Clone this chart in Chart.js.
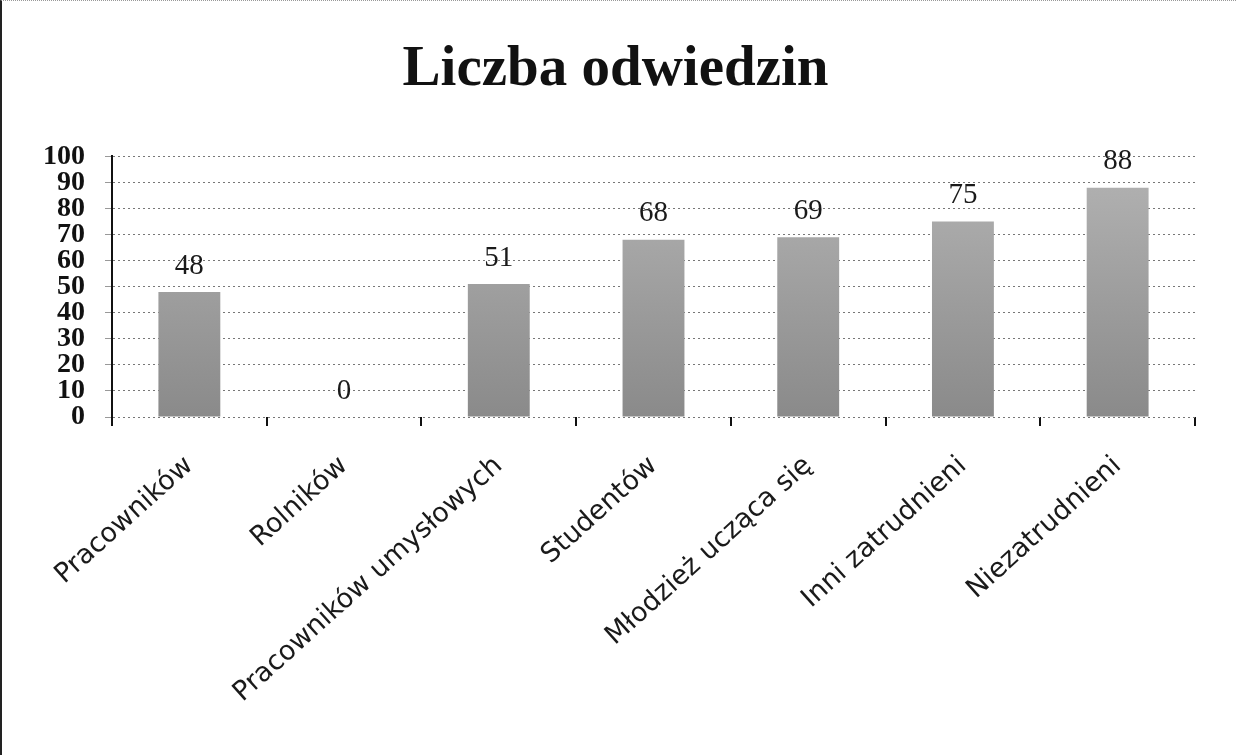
<!DOCTYPE html>
<html lang="pl">
<head>
<meta charset="utf-8">
<title>Liczba odwiedzin</title>
<script src="https://cdn.jsdelivr.net/npm/chart.js@4.4.1/dist/chart.umd.min.js"></script>
<style>
  html, body { margin: 0; padding: 0; background: #fff; }
  #wrap {
    position: relative; width: 1236px; height: 755px; box-sizing: border-box;
    border-left: 2px solid #222; border-top: 1px dotted #999;
  }
  canvas { position: absolute; left: -2px; top: -1px; }
</style>
</head>
<body>
<div id="wrap"><canvas id="chart" width="1236" height="755"></canvas></div>
<script>
// ---- Data --------------------------------------------------
const categories = [
  "Pracowników",
  "Rolników",
  "Pracowników umysłowych",
  "Studentów",
  "Młodzież ucząca się",
  "Inni zatrudnieni",
  "Niezatrudnieni",
];
const visits = [48, 0, 51, 68, 69, 75, 88];
const yMin = 0, yMax = 100, yStep = 10;

const serif = "'Liberation Serif', 'DejaVu Serif', serif";
const sans  = "'DejaVu Sans', 'Liberation Sans', sans-serif";

// ---- Value labels above the bars ---------------------------
const valueLabels = {
  id: "valueLabels",
  afterDatasetsDraw(chart) {
    const { ctx } = chart;
    const meta = chart.getDatasetMeta(0);
    ctx.save();
    ctx.font = `29px ${serif}`;
    ctx.fillStyle = "#1a1a1a";
    ctx.textAlign = "center";
    ctx.textBaseline = "middle";
    meta.data.forEach((bar, i) => {
      ctx.fillText(String(visits[i]), bar.x, bar.y - 26);
    });
    ctx.restore();
  },
};

// grey gradient, darker at the base
function barFill(context) {
  const { chart } = context;
  const area = chart.chartArea;
  if (!area) return "#9c9c9c";
  const g = chart.ctx.createLinearGradient(0, area.bottom, 0, area.top);
  g.addColorStop(0, "#8a8a8a");
  g.addColorStop(1, "#b4b4b4");
  return g;
}

new Chart(document.getElementById("chart"), {
  type: "bar",
  data: {
    labels: categories,
    datasets: [{
      data: visits,
      backgroundColor: barFill,
      borderWidth: 0,
      barPercentage: 0.4,
      categoryPercentage: 1,
    }],
  },
  plugins: [valueLabels],
  options: {
    responsive: false,
    animation: false,
    layout: { padding: { left: 36, right: 41, top: 0, bottom: 0 } },
    plugins: {
      legend: { display: false },
      tooltip: { enabled: false },
      title: {
        display: true,
        text: "Liczba odwiedzin",
        color: "#111",
        font: { family: serif, size: 57, weight: "bold" },
        padding: { top: 36, bottom: 52 },
      },
    },
    scales: {
      x: {
        afterFit: (s) => { s.height = 338; },
        grid: {
          offset: true,
          drawOnChartArea: false,
          drawTicks: true,
          tickLength: 9,
          color: "#111",
          lineWidth: 2,
        },
        border: { display: false },
        ticks: {
          minRotation: 42,
          maxRotation: 42,
          autoSkip: false,
          padding: 24,
          color: "#1a1a1a",
          font: { family: sans, size: 27 },
        },
      },
      y: {
        min: yMin,
        max: yMax,
        afterFit: (s) => { s.width = 76; },
        grid: {
          color: "#777",
          lineWidth: 1,
          tickLength: 7,
          tickColor: "#999",
        },
        border: { display: true, color: "#111", width: 2, dash: [2, 3] },
        ticks: {
          stepSize: yStep,
          autoSkip: false,
          padding: 20,
          color: "#111",
          font: { family: serif, size: 28, weight: "bold", lineHeight: 1 },
        },
      },
    },
  },
});
</script>
</body>
</html>
